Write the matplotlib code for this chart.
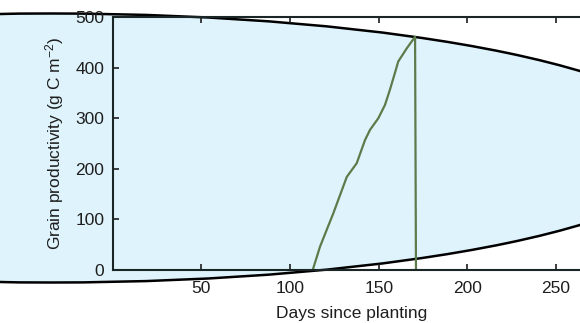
import matplotlib
matplotlib.use("Agg")
import matplotlib.pyplot as plt
from matplotlib.patches import Ellipse

plt.rcParams['font.family'] = ['Liberation Sans', 'DejaVu Sans']
plt.rcParams['mathtext.fontset'] = 'custom'
plt.rcParams['mathtext.rm'] = 'Liberation Sans'
plt.rcParams['mathtext.default'] = 'regular'

# Grain productivity through the season
days = [112.8, 116.9, 124.4, 132.0, 137.6, 142.3, 145.1, 149.8, 153.5,
        156.3, 159.1, 161.0, 165.8, 170.5, 171.0]
grain = [0, 46, 112, 184, 211, 257, 277, 300, 326,
         356, 389, 412, 438, 461, 0]

x_ticks = [0, 50, 100, 150, 200, 250]
x_tick_labels = ['', '50', '100', '150', '200', '250']
y_ticks = [0, 100, 200, 300, 400, 500]

W, H = 580, 323
fig = plt.figure(figsize=(W / 100, H / 100), dpi=100)

# Highlight ellipse behind the axes, in figure coordinates
ell = Ellipse((51 / W, 175 / H), 1290 / W, 269 / H,
              transform=fig.transFigure, facecolor='#dff3fc',
              edgecolor='black', linewidth=1.8, zorder=-5)
fig.patches.append(ell)

ax = fig.add_axes([112.6 / W, 53 / H, 479 / W, 253 / H])
ax.set_zorder(2)
ax.patch.set_visible(False)
ax.plot(days, grain, color='#5b7b4b', linewidth=1.6)

ax.set_xlim(0, 270)
ax.set_ylim(0, 500)
ax.set_xticks(x_ticks)
ax.set_xticklabels(x_tick_labels)
ax.set_yticks(y_ticks)
ax.tick_params(direction='in', length=4, width=1.2, labelsize=12.5,
               top=True, colors='#1e1e1e', pad=6)
ax.tick_params(axis='x', pad=8)
for s in ax.spines.values():
    s.set_linewidth(1.5)
    s.set_color('#1a2626')

ax.set_xlabel('Days since planting', fontsize=12.5, labelpad=7,
              color='#1e1e1e')
ax.set_ylabel(r'Grain productivity (g C m$^{-2}$)', fontsize=12.5,
              labelpad=7, color='#1e1e1e')

fig.savefig('out.png', dpi=100)
